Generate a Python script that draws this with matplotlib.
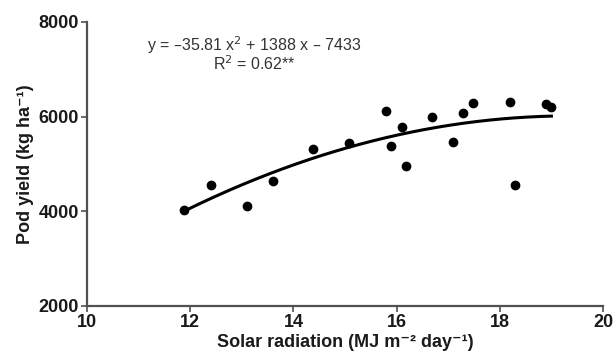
import numpy as np
import matplotlib
matplotlib.use('Agg')
import matplotlib.pyplot as plt

solar = [11.88, 12.40, 13.10, 13.60, 14.38, 15.08, 15.79, 15.89, 16.10, 16.19,
         16.69, 17.09, 17.29, 17.49, 18.19, 18.30, 18.90, 19.00]
pod_yield = [4025, 4555, 4110, 4635, 5325, 5435, 6125, 5375, 5790, 4950,
             6000, 5455, 6070, 6295, 6315, 4560, 6265, 6205]

# quadratic fit printed on the chart
fit_coef = [-35.81, 1388, -7433]
fit_range = [11.9, 19.0]

xticks = [10, 12, 14, 16, 18, 20]
yticks = [2000, 4000, 6000, 8000]

fam = ['Liberation Sans', 'DejaVu Sans']
plt.rcParams['font.family'] = fam

fig = plt.figure(figsize=(6.15, 3.54), dpi=100)
ax = fig.add_axes([0.1415, 0.1356, 0.839, 0.8023])

xs = np.linspace(fit_range[0], fit_range[1], 200)
ax.plot(xs, np.polyval(fit_coef, xs), color='black', lw=2.2, zorder=2)
ax.plot(solar, pod_yield, 'o', color='black', ms=6, zorder=3)

ax.set_xlim(10, 20)
ax.set_ylim(2000, 8000)
ax.set_xticks(xticks)
ax.set_yticks(yticks)

for s in ['top', 'right']:
    ax.spines[s].set_visible(False)
for s in ['left', 'bottom']:
    ax.spines[s].set_color('#505050')
    ax.spines[s].set_linewidth(1.6)
ax.tick_params(colors='#505050', width=1.2, length=4, labelcolor='#1a1a1a',
               labelsize=13, pad=2)
for lbl in ax.get_xticklabels() + ax.get_yticklabels():
    lbl.set_fontweight('bold')

ax.set_xlabel('Solar radiation (MJ m⁻² day⁻¹)', fontsize=13, fontweight='bold',
              color='#1a1a1a', labelpad=2)
ax.set_ylabel('Pod yield (kg ha⁻¹)', fontsize=13, fontweight='bold',
              color='#1a1a1a', labelpad=3)

ax.text(13.24, 7520, 'y = –35.81 x$^2$ + 1388 x – 7433', ha='center', va='center',
        fontsize=11.5, color='#333333')
ax.text(13.24, 7110, 'R$^2$ = 0.62**', ha='center', va='center',
        fontsize=11.5, color='#333333')

fig.savefig('out.png', dpi=100)
